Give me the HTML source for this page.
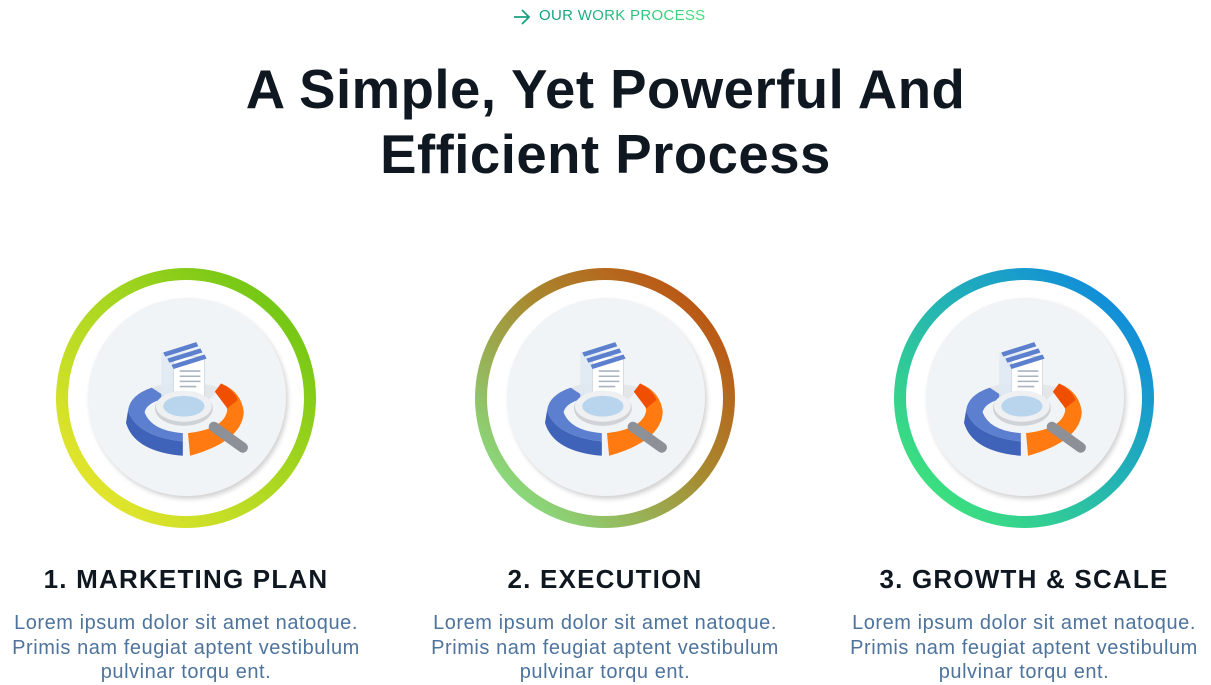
<!DOCTYPE html>
<html><head><meta charset="utf-8"><style>
body{margin:0;width:1211px;height:683px;background:#fff;font-family:"Liberation Sans",sans-serif;overflow:hidden;position:relative}
.tag{position:absolute;top:7px;left:539px;font-size:15px;letter-spacing:0.3px;white-space:nowrap}
.tag span{background:linear-gradient(90deg,#0f9a7f,#3fe07a);-webkit-background-clip:text;background-clip:text;color:transparent}
.arr{position:absolute;left:513px;top:9px}
h1{position:absolute;top:57px;left:0;width:1211px;margin:0;text-align:center;font-size:54.5px;line-height:65px;font-weight:bold;color:#0f1720;letter-spacing:0.5px}
.col{position:absolute;top:268px;width:380px;text-align:center}
.ring{position:absolute;left:60px;top:0;width:260px;height:260px;border-radius:50%}
.ring .w{position:absolute;left:12px;top:12px;width:236px;height:236px;border-radius:50%;background:#fff}
.ring .d{position:absolute;left:32px;top:30px;width:198px;height:198px;border-radius:50%;background:#f1f4f6;box-shadow:2px 3px 5px rgba(0,0,0,.18)}
.ring svg{position:absolute;left:70px;top:70px}
.t{position:absolute;top:296px;left:-20px;width:420px;font-size:26px;font-weight:bold;color:#0f1720;letter-spacing:1.2px}
.p{position:absolute;top:343px;left:-20px;width:420px;font-size:20px;line-height:24.5px;color:#4e739c;letter-spacing:0.55px}
</style></head><body>
<svg class="arr" width="18" height="16" viewBox="0 0 18 16"><path d="M1 8H16M9 1L16 8L9 15" fill="none" stroke="#16a382" stroke-width="1.8"/></svg>
<div class="tag"><span>OUR WORK PROCESS</span></div>
<h1>A Simple, Yet Powerful And<br>Efficient Process</h1>

<div class="col" style="left:-4px">
<div class="ring" style="background:linear-gradient(225deg,#5cc010,#a6d620 45%,#f7ea30)"><div class="w"></div><div class="d"></div>
<svg width="124" height="124" viewBox="0 0 120 120"><g id="ic">
<path d="M2 70 Q10 95 55 100 L55 114 Q8 110 0 82 Z" fill="#3f63b8"/>
<path d="M2 70 Q4 55 25 48 L40 58 Q20 62 18 72 Q25 90 55 92 L55 100 Q10 95 2 70Z" fill="#5d7fcf"/>
<path d="M25 48 Q50 38 92 48 L80 60 Q58 54 40 58Z" fill="#e4e7ea"/>
<path d="M60 92 Q95 88 98 70 Q96 58 86 52 L92 44 Q112 52 114 72 Q112 100 62 114 Z" fill="#ff7a10"/>
<path d="M86 52 L92 44 Q104 50 108 60 L98 68Z" fill="#f04e00"/>
<rect x="34" y="14" width="30" height="56" fill="#dfe9f4" opacity=".8"/>
<rect x="46" y="18" width="30" height="40" fill="#fff" stroke="#d6dbe2"/>
<path d="M36 14 L68 4 L70 8 L38 18Z M40 20 L72 10 L74 14 L42 24Z M44 26 L76 16 L78 20 L46 30Z" fill="#5c7fce"/>
<path d="M52 32h20M52 37h20M52 42h20M52 47h16" stroke="#aab3bf" stroke-width="1.5"/>
<line x1="85" y1="86" x2="113" y2="106" stroke="#8d9197" stroke-width="10" stroke-linecap="round"/>
<ellipse cx="56" cy="68" rx="28" ry="17" fill="#cfd3d8"/>
<ellipse cx="56" cy="66" rx="27" ry="15" fill="#eef0f2"/>
<ellipse cx="56" cy="66" rx="20" ry="10" fill="#b9d5ee"/>
</g></svg></div>
<div class="t">1. MARKETING PLAN</div>
<div class="p">Lorem ipsum dolor sit amet natoque.<br>Primis nam feugiat aptent vestibulum<br>pulvinar torqu ent.</div>
</div>

<div class="col" style="left:415px">
<div class="ring" style="background:linear-gradient(225deg,#c4400a,#a8882e 45%,#7ff598)"><div class="w"></div><div class="d"></div>
<svg width="124" height="124" viewBox="0 0 120 120"><use href="#ic"/></svg></div>
<div class="t">2. EXECUTION</div>
<div class="p">Lorem ipsum dolor sit amet natoque.<br>Primis nam feugiat aptent vestibulum<br>pulvinar torqu ent.</div>
</div>

<div class="col" style="left:834px">
<div class="ring" style="background:linear-gradient(225deg,#0a7ee8,#22b0b8 45%,#45f06a)"><div class="w"></div><div class="d"></div>
<svg width="124" height="124" viewBox="0 0 120 120"><use href="#ic"/></svg></div>
<div class="t">3. GROWTH &amp; SCALE</div>
<div class="p">Lorem ipsum dolor sit amet natoque.<br>Primis nam feugiat aptent vestibulum<br>pulvinar torqu ent.</div>
</div>
</body></html>
